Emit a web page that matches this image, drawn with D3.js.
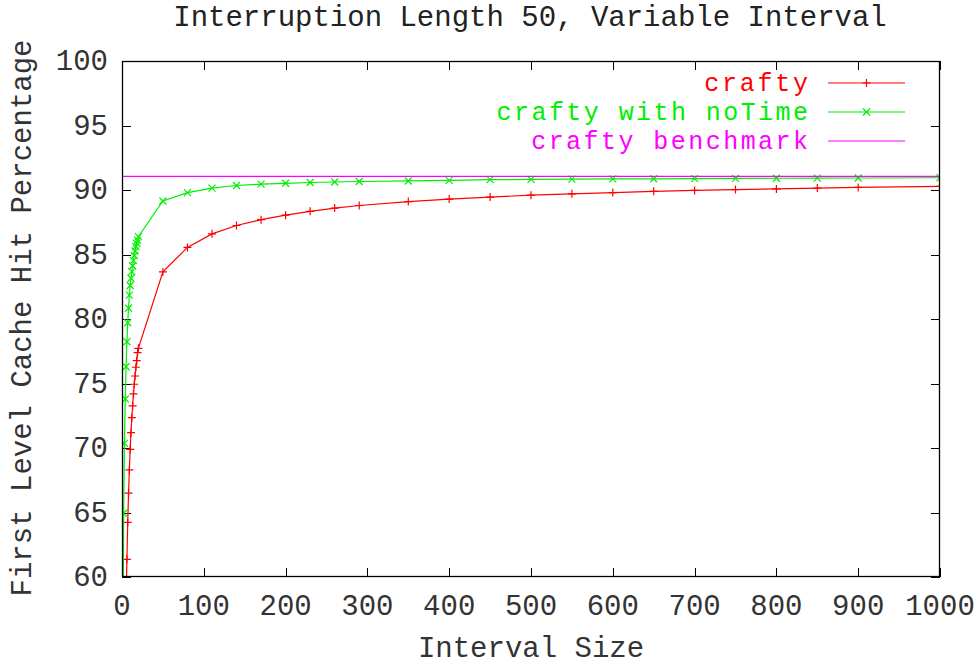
<!DOCTYPE html>
<html><head><meta charset="utf-8">
<script src="https://cdn.jsdelivr.net/npm/d3@7/dist/d3.min.js"></script>
<style>body{margin:0;background:#fff}svg text{font-family:"Liberation Mono","DejaVu Sans Mono",monospace;}</style>
</head><body><svg id="c" width="977" height="667"></svg>
<script>
const xCrafty = [1,2,3,4,5,6,7,8,9,10,11,12,13,14,15,16,17,18,19,20,50,80,110,140,170,200,230,260,290,350,400,450,500,550,600,650,700,750,800,850,900,1000];
const yCrafty = [30,40,48,54,58,61.37,64.24,66.5,68.3,69.9,71.19,72.35,73.26,74.19,74.94,75.58,76.26,76.77,77.4,77.73,83.65,85.55,86.6,87.25,87.7,88.05,88.35,88.6,88.8,89.1,89.3,89.45,89.6,89.7,89.8,89.9,89.97,90.03,90.08,90.15,90.2,90.28];
const xNoTime = [1,2,3,4,5,6,7,8,9,10,11,12,13,14,15,16,17,18,19,20,50,80,110,140,170,200,230,260,290,350,400,450,500,550,600,650,700,750,800,850,900,1000];
const yNoTime = [50,64.94,70.36,73.8,76.3,78.24,79.71,80.83,81.85,82.6,83.16,83.67,84.13,84.52,84.91,85.27,85.61,85.87,86.12,86.38,89.15,89.8,90.15,90.35,90.45,90.52,90.58,90.62,90.66,90.7,90.75,90.8,90.82,90.84,90.86,90.87,90.88,90.9,90.91,90.92,90.93,90.95];
const benchmark = 91.05;
const xTicks = [0,100,200,300,400,500,600,700,800,900,1000];
const yTicks = [60,65,70,75,80,85,90,95,100];
const seriesNames = ["crafty","crafty with noTime","crafty benchmark"];
const colors = ["#ff0000","#00ee00","#ff00ff"];
const titleText = "Interruption Length 50, Variable Interval";
const xLabel = "Interval Size";
const yLabel = "First Level Cache Hit Percentage";

const svg = d3.select("#c");
const L=122,R=940,T=61,B=577, FS=29, TL=9;
const x = d3.scaleLinear().domain([0,1000]).range([L,R]);
const y = d3.scaleLinear().domain([60,100]).range([B,T]);

svg.append("defs").append("clipPath").attr("id","clip").append("rect")
  .attr("x",L).attr("y",T).attr("width",R-L).attr("height",B-T);

// axes with inward ticks
const ax = svg.append("g").attr("stroke","#000").attr("stroke-width",1);
xTicks.forEach(t=>{
  const px = Math.round(x(t))+0.5;
  ax.append("line").attr("x1",px).attr("x2",px).attr("y1",B).attr("y2",B-TL);
  ax.append("line").attr("x1",px).attr("x2",px).attr("y1",T).attr("y2",T+TL);
});
yTicks.forEach(t=>{
  const py = Math.round(y(t))+0.5;
  ax.append("line").attr("x1",L).attr("x2",L+TL).attr("y1",py).attr("y2",py);
  ax.append("line").attr("x1",R).attr("x2",R-TL).attr("y1",py).attr("y2",py);
});
svg.selectAll(".xt").data(xTicks).enter().append("text")
  .attr("x",d=>x(d)).attr("y",B+38).attr("text-anchor","middle")
  .attr("font-size",FS).attr("fill","#333").text(d=>d);
svg.selectAll(".yt").data(yTicks).enter().append("text")
  .attr("x",L-14).attr("y",d=>y(d)+9).attr("text-anchor","end")
  .attr("font-size",FS).attr("fill","#333").text(d=>d);

svg.append("text").attr("x",530).attr("y",26).attr("text-anchor","middle")
  .attr("font-size",FS).attr("fill","#222").text(titleText);
svg.append("text").attr("x",531).attr("y",657).attr("text-anchor","middle")
  .attr("font-size",FS).attr("fill","#333").text(xLabel);
svg.append("text").attr("transform","translate(31,318) rotate(-90)").attr("text-anchor","middle")
  .attr("font-size",FS).attr("fill","#333").text(yLabel);

const plot = svg.append("g").attr("clip-path","url(#clip)");
const line = d3.line().x(d=>x(d[0])).y(d=>y(d[1]));
const dC = xCrafty.map((v,i)=>[v,yCrafty[i]]);
const dN = xNoTime.map((v,i)=>[v,yNoTime[i]]);

function plus(g,cx,cy,col){const s=4;
  g.append("path").attr("d",`M${cx-s},${cy}H${cx+s}M${cx},${cy-s}V${cy+s}`).attr("stroke",col).attr("stroke-width",1.2).attr("fill","none");}
function cross(g,cx,cy,col){const s=3.5;
  g.append("path").attr("d",`M${cx-s},${cy-s}L${cx+s},${cy+s}M${cx-s},${cy+s}L${cx+s},${cy-s}`).attr("stroke",col).attr("stroke-width",1.2).attr("fill","none");}

plot.append("path").datum(dC).attr("d",line).attr("fill","none").attr("stroke",colors[0]).attr("stroke-width",1.2);
dC.filter(d=>d[1]>=60).forEach(d=>plus(plot,x(d[0]),y(d[1]),colors[0]));
plot.append("path").datum(dN).attr("d",line).attr("fill","none").attr("stroke",colors[1]).attr("stroke-width",1.2);
dN.filter(d=>d[1]>=60).forEach(d=>cross(plot,x(d[0]),y(d[1]),colors[1]));
plot.append("line").attr("x1",L).attr("x2",R).attr("y1",y(benchmark)).attr("y2",y(benchmark))
  .attr("stroke",colors[2]).attr("stroke-width",1.2);

// legend
const lg = svg.append("g");
const rowsY=[83,112,141];
seriesNames.forEach((n,i)=>{
  lg.append("text").attr("x",808).attr("y",rowsY[i]+8).attr("text-anchor","end")
    .attr("font-size",25).attr("textLength",n.length*17.3).attr("lengthAdjust","spacing")
    .attr("fill",colors[i]).text(n);
  lg.append("line").attr("x1",828).attr("x2",905).attr("y1",rowsY[i]).attr("y2",rowsY[i])
    .attr("stroke",colors[i]).attr("stroke-width",1.2);
});
plus(lg,866.5,rowsY[0],colors[0]);
cross(lg,866.5,rowsY[1],colors[1]);

// frame
svg.append("rect").attr("x",L+0.5).attr("y",T+0.5).attr("width",R-L-1).attr("height",B-T-1)
  .attr("fill","none").attr("stroke","#000").attr("stroke-width",1.3);
</script></body></html>
